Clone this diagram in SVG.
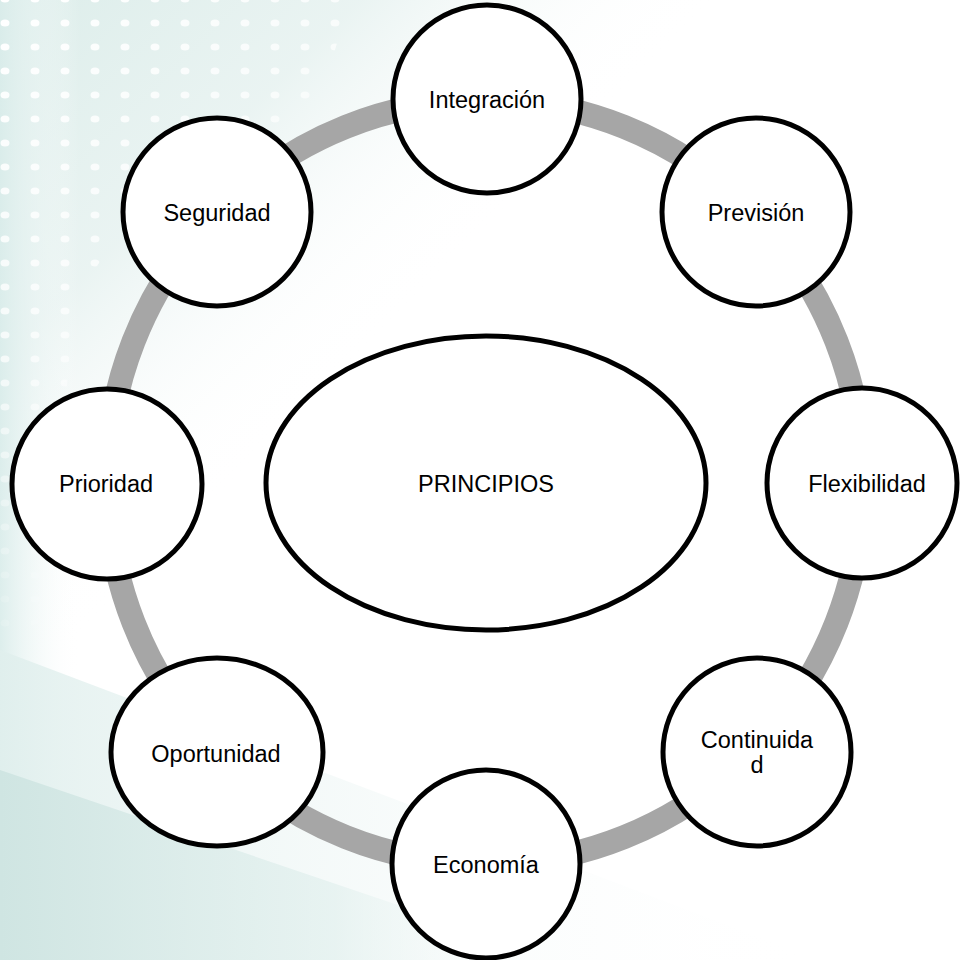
<svg xmlns="http://www.w3.org/2000/svg" width="965" height="960" viewBox="0 0 965 960">
  <defs>
    <style>
      .node { fill: #ffffff; stroke: #000000; stroke-width: 5; }
      .label { font-family: "Liberation Sans", Arial, sans-serif; font-size: 23.5px; fill: #000000; text-anchor: middle; }
      .ring { fill: none; stroke: #a6a6a6; stroke-width: 24; }
    </style>
    <linearGradient id="washTop" gradientUnits="userSpaceOnUse" x1="0" y1="0" x2="360" y2="360">
      <stop offset="0" stop-color="#dcedea" stop-opacity="1"/>
      <stop offset="0.5" stop-color="#e3f0ee" stop-opacity="0.75"/>
      <stop offset="1" stop-color="#ffffff" stop-opacity="0"/>
    </linearGradient>
    <linearGradient id="washLeft" x1="0" y1="0" x2="1" y2="0">
      <stop offset="0" stop-color="#d9ecea" stop-opacity="0.9"/>
      <stop offset="1" stop-color="#ffffff" stop-opacity="0"/>
    </linearGradient>
    <linearGradient id="washBottom" gradientUnits="userSpaceOnUse" x1="0" y1="960" x2="560" y2="960">
      <stop offset="0" stop-color="#cfe5e2" stop-opacity="1"/>
      <stop offset="0.6" stop-color="#e2f0ee" stop-opacity="0.7"/>
      <stop offset="1" stop-color="#ffffff" stop-opacity="0"/>
    </linearGradient>
    <linearGradient id="washBand" gradientUnits="userSpaceOnUse" x1="0" y1="960" x2="820" y2="960">
      <stop offset="0" stop-color="#e0efed" stop-opacity="0.9"/>
      <stop offset="1" stop-color="#ffffff" stop-opacity="0"/>
    </linearGradient>
    <pattern id="dots" patternUnits="userSpaceOnUse" x="-10" y="-13" width="30" height="24">
      <ellipse cx="15" cy="12" rx="4.5" ry="3.5" fill="#ffffff"/>
    </pattern>
    <linearGradient id="dotFade" gradientUnits="userSpaceOnUse" x1="0" y1="0" x2="300" y2="300">
      <stop offset="0" stop-color="#ffffff"/>
      <stop offset="0.6" stop-color="#ffffff" stop-opacity="0.7"/>
      <stop offset="1" stop-color="#ffffff" stop-opacity="0.15"/>
    </linearGradient>
    <mask id="dotMask" maskUnits="userSpaceOnUse" x="0" y="0" width="965" height="960">
      <polygon points="0,0 350,0 320,100 250,150 140,200 75,300 45,620 0,640" fill="url(#dotFade)"/>
    </mask>
  </defs>

  <g id="background">
    <rect x="0" y="0" width="965" height="960" fill="#ffffff"/>
    <polygon points="0,0 720,0 0,720" fill="url(#washTop)"/>
    <rect x="0" y="0" width="80" height="960" fill="url(#washLeft)"/>
    <polygon points="0,650 820,960 0,960" fill="url(#washBand)"/>
    <polygon points="0,770 560,960 0,960" fill="url(#washBottom)"/>
    <rect x="0" y="0" width="400" height="650" fill="url(#dots)" mask="url(#dotMask)"/>
  </g>

  <g id="connectors">
    <ellipse class="ring" cx="485" cy="482" rx="378" ry="382"/>
  </g>

  <g id="node-principios">
    <ellipse class="node" cx="486" cy="483" rx="220" ry="147"/>
    <text class="label" x="486" y="492">PRINCIPIOS</text>
  </g>

  <g id="node-integracion">
    <circle class="node" cx="487" cy="99" r="94"/>
    <text class="label" x="487" y="108">Integración</text>
  </g>

  <g id="node-prevision">
    <circle class="node" cx="756" cy="212" r="94"/>
    <text class="label" x="756" y="221">Previsión</text>
  </g>

  <g id="node-flexibilidad">
    <circle class="node" cx="862" cy="483" r="95"/>
    <text class="label" x="867" y="492">Flexibilidad</text>
  </g>

  <g id="node-continuidad">
    <circle class="node" cx="757" cy="752" r="94"/>
    <text class="label" x="757" y="748">Continuida</text>
    <text class="label" x="757" y="773">d</text>
  </g>

  <g id="node-economia">
    <circle class="node" cx="486" cy="864" r="94"/>
    <text class="label" x="486" y="873">Economía</text>
  </g>

  <g id="node-oportunidad">
    <ellipse class="node" cx="217" cy="752" rx="106" ry="94"/>
    <text class="label" x="216" y="762">Oportunidad</text>
  </g>

  <g id="node-prioridad">
    <circle class="node" cx="107" cy="484" r="95"/>
    <text class="label" x="106" y="492">Prioridad</text>
  </g>

  <g id="node-seguridad">
    <circle class="node" cx="217" cy="212" r="94"/>
    <text class="label" x="217" y="221">Seguridad</text>
  </g>
</svg>
